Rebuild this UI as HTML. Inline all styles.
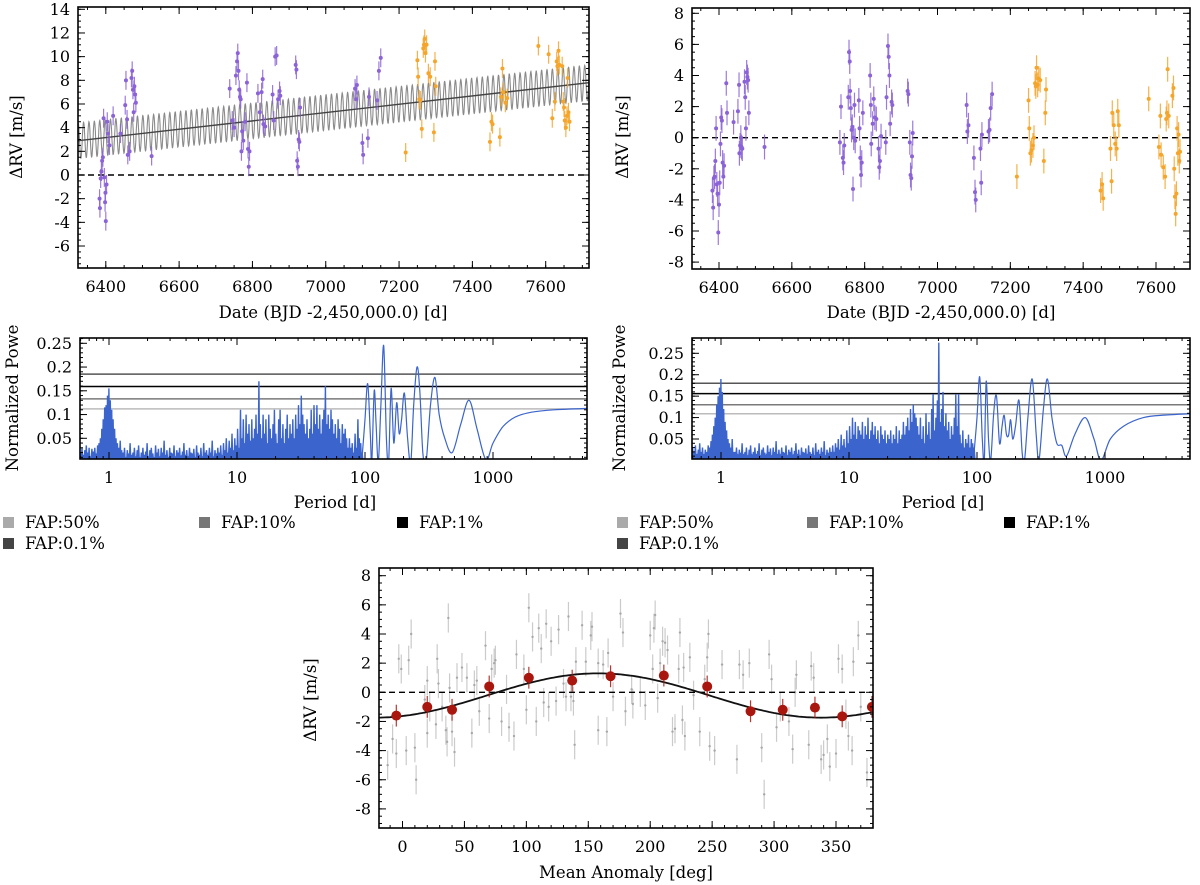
<!DOCTYPE html>
<html><head><meta charset="utf-8"><style>
body{margin:0;background:#fff;}
svg{display:block;font-family:"DejaVu Serif","Liberation Serif",serif;}
</style></head><body>
<svg id="fig" width="1200" height="885" viewBox="0 0 1200 885"></svg>
<script>
// ---------- DATA ----------
const tlPurpleDates=[6383,6384,6386,6388,6390,6392,6394,6396,6398,6399,6400,6402,6404,6406,6410,6420,6440,6455,6453,6458,6460,6465,6470,6472,6474,6476,6478,6480,6482,6525,6738,6745,6750,6755,6758,6760,6762,6764,6766,6768,6770,6772,6775,6780,6785,6788,6790,6792,6815,6820,6825,6828,6830,6835,6855,6858,6862,6866,6870,6874,6876,6918,6920,6922,6924,6926,6928,6930,7080,7083,7085,7100,7102,7115,7118,7140,7145,7150];
const tlPurpleRV=[-2.0,-2.8,-0.3,0.3,1.2,1.5,4.8,-0.2,-2.3,-1.5,-3.9,-0.8,4.5,3.5,2.5,5.0,3.5,8.0,5.9,4.7,1.7,2.0,8.2,8.8,7.2,5.3,7.5,6.8,6.1,1.6,7.3,4.6,4.0,8.4,9.6,10.3,8.8,7.2,6.6,6.4,2.0,3.7,2.9,4.5,7.8,2.2,0.7,2.0,6.9,5.3,7.0,8.1,4.3,4.1,6.8,4.6,10.0,10.1,6.4,7.1,6.7,9.3,8.9,1.2,0.7,3.0,2.8,5.7,7.3,6.4,7.6,2.7,1.7,3.1,6.6,6.3,8.8,9.9];
const tlOrangeDates=[7218,7250,7252,7255,7258,7262,7266,7268,7270,7272,7275,7280,7285,7295,7298,7300,7448,7452,7455,7475,7478,7482,7485,7490,7495,7580,7608,7618,7625,7630,7632,7635,7637,7645,7648,7650,7652,7655,7658,7660,7662,7665];
const tlOrangeRV=[1.9,9.7,8.3,6.4,6.3,3.9,10.7,11.0,11.5,10.3,11.0,8.6,8.3,3.6,9.6,7.5,2.8,4.5,4.3,3.2,6.6,9.0,7.0,6.1,6.5,10.9,10.2,4.8,6.2,9.6,9.2,10.5,9.3,9.2,6.2,5.7,4.6,4.0,5.0,8.2,5.3,4.5];
const trPurpleDates=[6382,6384,6386,6388,6390,6392,6394,6396,6398,6400,6402,6404,6406,6408,6410,6412,6414,6420,6422,6440,6452,6455,6456,6458,6460,6462,6464,6470,6472,6474,6476,6478,6480,6482,6525,6732,6735,6740,6742,6744,6755,6757,6759,6760,6762,6764,6766,6768,6770,6772,6774,6784,6786,6788,6790,6792,6795,6815,6817,6818,6822,6825,6828,6832,6838,6840,6842,6845,6858,6860,6864,6866,6868,6870,6874,6876,6918,6920,6924,6926,6928,6930,6932,7080,7082,7085,7100,7103,7105,7118,7120,7122,7140,7143,7146,7150];
const trPurpleRV=[-3.4,-4.5,-2.6,-2.5,-1.5,0.6,-3.0,-3.6,-6.1,-4.3,-2.9,-0.4,1.3,1.1,-1.6,-2.5,-1.8,3.5,1.6,1.0,1.7,3.4,-1.0,-0.5,0.0,-0.6,-0.7,3.6,2.6,0.6,4.2,3.9,3.7,1.6,-0.6,-0.3,2.0,-1.3,-1.6,-0.5,2.6,5.5,4.9,3.0,1.9,0.5,0.7,-3.3,0.0,2.1,-0.2,2.4,0.6,-1.3,-2.4,-1.6,1.6,4.0,2.1,-0.4,0.9,2.5,1.3,1.2,-0.7,-1.9,-1.5,0.1,-0.3,2.6,5.9,5.2,4.0,0.9,2.3,2.1,3.0,2.8,-0.3,-2.4,-2.6,-1.2,0.3,2.1,0.4,0.8,-1.3,-3.5,-4.0,-0.7,-2.9,0.2,0.4,0.5,1.9,2.8];
const trOrangeDates=[7218,7250,7252,7255,7258,7262,7265,7268,7270,7272,7275,7278,7282,7292,7296,7298,7448,7452,7455,7475,7478,7480,7484,7488,7492,7495,7498,7580,7608,7612,7614,7620,7625,7628,7630,7632,7635,7645,7648,7650,7652,7654,7656,7658,7660,7662,7664,7666];
const trOrangeRV=[-2.5,2.4,0.6,-1.0,-0.8,-0.5,0.0,3.5,3.3,4.5,3.4,3.8,3.7,-1.5,1.6,3.1,-3.4,-3.0,-3.9,-0.7,-2.8,1.6,0.8,-0.4,-0.7,1.7,0.8,2.5,-0.6,1.4,-1.1,-1.9,-2.5,1.2,1.6,4.4,1.4,2.7,3.2,-2.0,-3.8,-4.9,-3.6,0.6,-1.0,0.2,-1.5,-0.9];
const rvErr=[0.8];
const modelTrend=[2.9,7.8];
const modelAmp=[1.5];
const modelPeriod=[14.7];
const plNoiseRange=[0.6,95];
const plNoise=[.02,.03,.015,.025,.035,.02,.03,.012,.028,.022,.03,.018,.035,.04,.05,.07,.09,.115,.12,.14,.155,.13,.11,.09,.07,.05,.04,.03,.045,.025,.02,.03,.01,.025,.018,.04,.015,.02,.03,.012,.025,.035,.01,.02,.03,.015,.022,.04,.012,.025,.03,.018,.01,.035,.02,.028,.012,.03,.02,.045,.015,.025,.01,.03,.02,.018,.035,.012,.025,.02,.03,.01,.022,.04,.015,.025,.012,.03,.02,.018,.028,.01,.035,.02,.015,.03,.012,.04,.02,.025,.015,.03,.02,.045,.012,.025,.018,.03,.02,.035,.015,.04,.025,.05,.02,.045,.03,.06,.025,.05,.035,.07,.03,.11,.05,.09,.04,.1,.06,.08,.045,.09,.05,.07,.1,.06,.17,.08,.05,.1,.06,.09,.04,.1,.07,.05,.08,.11,.06,.04,.09,.11,.05,.08,.04,.07,.1,.05,.08,.06,.09,.05,.1,.07,.12,.08,.14,.1,.08,.06,.09,.05,.07,.11,.06,.12,.08,.12,.07,.1,.06,.09,.11,.16,.08,.1,.07,.11,.09,.06,.08,.05,.09,.07,.04,.08,.06,.07,.05,.03,.05,.03,.04,.02,.06,.03,.09,.05,.04,.02];
const plPeriods=[95,100,105,110,113,118,122,127,133,140,147,153,160,168,177,185,193,203,215,228,240,255,268,283,300,325,352,380,420,480,560,650,750,880,1000,1200,1500,2000,3000,5450];
const plPower=[0.01,0.09,0.165,0.06,0.0,0.15,0.08,0.0,0.12,0.245,0.05,0.0,0.155,0.04,0.125,0.06,0.09,0.145,0.05,0.0,0.12,0.2,0.15,0.02,0.0,0.12,0.178,0.1,0.05,0.02,0.08,0.13,0.07,0.005,0.04,0.075,0.095,0.105,0.11,0.113];
const prNoiseRange=[0.6,95];
const prNoise=[.03,.02,.035,.015,.025,.04,.02,.03,.015,.025,.02,.035,.03,.045,.06,.08,.1,.13,.15,.17,.19,.16,.12,.09,.07,.05,.04,.03,.05,.02,.02,.03,.01,.025,.018,.04,.015,.02,.03,.012,.025,.035,.01,.02,.03,.015,.022,.04,.012,.025,.03,.018,.01,.035,.02,.028,.012,.03,.02,.045,.015,.025,.01,.03,.02,.018,.035,.012,.025,.02,.03,.01,.022,.04,.015,.025,.012,.03,.02,.018,.028,.01,.035,.02,.015,.03,.012,.04,.02,.025,.015,.03,.02,.045,.012,.025,.018,.03,.02,.035,.02,.04,.03,.05,.025,.06,.035,.05,.03,.07,.04,.08,.05,.1,.06,.09,.05,.08,.07,.06,.09,.05,.08,.06,.1,.05,.07,.09,.06,.08,.05,.07,.04,.08,.06,.05,.07,.04,.06,.05,.07,.04,.06,.05,.08,.04,.07,.05,.06,.09,.06,.08,.1,.07,.12,.09,.13,.11,.1,.08,.06,.1,.05,.08,.04,.11,.06,.09,.05,.12,.155,.07,.1,.14,.275,.09,.12,.16,.08,.11,.07,.09,.05,.08,.06,.1,.155,.08,.155,.06,.04,.07,.03,.05,.04,.06,.03,.05,.04,.03];
const prPeriods=[95,100,105,110,114,118,123,128,135,142,150,157,163,170,177,183,190,200,213,225,235,250,270,290,305,330,355,385,420,460,500,580,700,820,930,1100,1400,2000,3000,5450];
const prPower=[0.02,0.1,0.195,0.05,0.0,0.185,0.05,0.0,0.11,0.15,0.04,0.08,0.105,0.06,0.06,0.095,0.05,0.08,0.14,0.02,0.0,0.1,0.19,0.06,0.0,0.12,0.19,0.1,0.04,0.035,0.01,0.06,0.1,0.05,0.0,0.05,0.08,0.1,0.106,0.11];
const plFap=[0.112,0.133,0.159,0.185];
const prFap=[0.109,0.130,0.156,0.180];
const fapLabels=["FAP:50%","FAP:10%","FAP:1%","FAP:0.1%"];
const phaseDeg=[-12,-8,-5,-3,-1,3,5,7,10,11,18,20,20,22,27,28,29,32,35,36,37,38,40,42,44,48,52,56,58,60,62,67,70,72,74,75,80,84,86,90,92,98,100,102,105,108,110,112,114,116,118,120,124,126,130,132,134,136,138,140,139,145,148,152,153,158,158,162,165,166,170,176,178,180,185,186,192,196,200,202,203,204,206,208,210,212,214,218,220,223,224,226,227,228,232,235,240,244,246,247,248,252,258,270,272,275,280,290,292,296,298,302,305,312,315,317,318,328,330,332,338,340,343,345,350,352,355,358,360,363,364,368,370,375];
const phaseRV=[-5.0,-3.2,-4.2,2.3,1.6,-4.0,2.2,4.0,-3.8,-6.0,-0.5,0.8,-2.8,-1.0,-2.2,2.3,0.6,-1.0,-2.6,-3.4,5.1,0.3,-2.7,-4.1,1.0,1.7,1.0,-2.8,0.5,0.8,-1.3,3.2,-1.8,1.6,2.0,2.2,-2.0,0.2,-2.4,-3.0,2.6,1.6,-1.2,5.8,3.8,-2.0,4.4,3.0,-0.7,4.7,-1.0,3.5,-0.6,4.3,0.6,-0.3,5.2,-0.3,-0.6,2.1,-3.6,4.6,2.1,3.9,4.5,2.0,-2.6,1.9,-2.7,2.7,-0.3,5.4,4.1,-1.3,0.2,-0.8,0.0,-0.9,3.9,1.6,4.4,5.3,-0.4,2.0,3.5,3.4,2.9,-2.7,-2.5,1.6,4.1,-1.9,1.7,-3.0,2.4,-0.2,-2.7,0.9,2.4,4.0,-3.7,-4.0,1.9,-4.6,1.9,1.2,2.0,-3.8,-7.0,2.6,0.9,-2.4,-1.0,-2.0,-3.9,0.0,1.2,-3.6,1.8,1.0,-4.6,-4.3,-3.2,-5.1,-4.2,2.3,1.6,-1.5,-3.0,-4.0,2.1,3.9,-1.0,-5.5];
const binDeg=[-5,20,40,70,102,137,168,211,246,281,307,333,355,379];
const binRV=[-1.6,-1.0,-1.2,0.4,1.0,0.8,1.1,1.15,0.4,-1.3,-1.2,-1.05,-1.65,-1.0];
const phaseModel=[-0.22,1.52,158];

// ---------- HELPERS ----------
const NS='http://www.w3.org/2000/svg';
const svg=document.getElementById('fig');
function mk(tag,attrs,parent){const e=document.createElementNS(NS,tag);for(const k in attrs)e.setAttribute(k,attrs[k]);(parent||svg).appendChild(e);return e;}
function lin(d0,d1,r0,r1){return v=>r0+(v-d0)*(r1-r0)/(d1-d0);}
function logs(d0,d1,r0,r1){const a=Math.log10(d0),b=Math.log10(d1);return v=>r0+(Math.log10(v)-a)*(r1-r0)/(b-a);}
let clipId=0;
function frame(g,box,name){
  const id='clip'+(clipId++);
  const cp=mk('clipPath',{id:id},g);
  mk('rect',{x:box.x0,y:box.y0,width:box.x1-box.x0,height:box.y1-box.y0},cp);
  const inner=mk('g',{'clip-path':'url(#'+id+')'},g);
  
  
  return inner;
}
function border(g,box,name){
  const r=mk('rect',{x:box.x0,y:box.y0,width:box.x1-box.x0,height:box.y1-box.y0,fill:'none',stroke:'#000','stroke-width':1.6},g);
  
  
}
function tick(g,x1,y1,x2,y2){mk('line',{x1:x1,y1:y1,x2:x2,y2:y2,stroke:'#000','stroke-width':1},g);}
function xTicks(g,box,sx,majors,minors,labels,name){
  const tg=mk('g',{},g);
  
  
  minors.forEach(v=>{const x=sx(v);if(x<box.x0||x>box.x1)return;tick(tg,x,box.y1,x,box.y1-3);tick(tg,x,box.y0,x,box.y0+3);});
  majors.forEach((v,i)=>{const x=sx(v);tick(tg,x,box.y1,x,box.y1-7);tick(tg,x,box.y0,x,box.y0+7);
    const t=mk('text',{x:x,y:box.y1+24,'text-anchor':'middle','font-size':16},tg);t.textContent=labels[i];
    
    });
}
function yTicks(g,box,sy,majors,minors,labels,name){
  const tg=mk('g',{},g);
  
  
  minors.forEach(v=>{const y=sy(v);if(y<box.y0||y>box.y1)return;tick(tg,box.x0,y,box.x0+3,y);tick(tg,box.x1,y,box.x1-3,y);});
  majors.forEach((v,i)=>{const y=sy(v);tick(tg,box.x0,y,box.x0+7,y);tick(tg,box.x1,y,box.x1-7,y);
    const t=mk('text',{x:box.x0-8,y:y+5.5,'text-anchor':'end','font-size':16},tg);t.textContent=labels[i];
    
    });
}
function label(g,x,y,txt,rot,name){
  const t=mk('text',{x:x,y:y,'text-anchor':'middle','font-size':16.5},g);
  if(rot)t.setAttribute('transform','rotate(-90 '+x+' '+y+')');
  t.textContent=txt;
  
  
}
function range(a,b,s){const r=[];for(let v=a;v<=b+1e-9;v+=s)r.push(+v.toFixed(4));return r;}
function points(g,xs,ys,sx,sy,err,color,name,r,op){
  const pg=mk('g',{},g);
  
  
  xs.forEach((d,i)=>{const x=sx(d),y=sy(ys[i]);
    mk('line',{x1:x,x2:x,y1:sy(ys[i]+err),y2:sy(ys[i]-err),stroke:color,'stroke-width':1.2,'stroke-opacity':op||0.85},pg);
    const c=mk('circle',{cx:x,cy:y,r:r,fill:color},pg);
    
    });
}
function zeroLine(g,box,sy){mk('line',{x1:box.x0,x2:box.x1,y1:sy(0),y2:sy(0),stroke:'#000','stroke-width':1.4,'stroke-dasharray':'6,4'},g);}

const PURPLE='#8b63d6',ORANGE='#f5a52a',BLUE='#3b64cc';

// ---------- TOP LEFT ----------
(function(){
  const g=mk('g',{});
  const box={x0:78,x1:589,y0:7,y1:268};
  const sx=lin(6400,7600,105.8,545.7), sy=lin(0,14,175,9.3);
  const inner=frame(g,box,'rv-model');
  zeroLine(inner,box,sy);
  let d='';const t0=6325,t1=7718;
  for(let t=t0;t<=t1;t+=0.5){const base=modelTrend[0]+(modelTrend[1]-modelTrend[0])*(t-t0)/(t1-t0);
    const v=base+modelAmp[0]*Math.sin(2*Math.PI*t/modelPeriod[0]);d+=(t===t0?'M':'L')+sx(t).toFixed(1)+','+sy(v).toFixed(1);}
  const m=mk('path',{d:d,fill:'none',stroke:'#8a8a8a','stroke-width':1.1},inner);
  
  const tr=mk('line',{x1:sx(t0),y1:sy(modelTrend[0]),x2:sx(t1),y2:sy(modelTrend[1]),stroke:'#444','stroke-width':1.4},inner);
  
  points(inner,tlPurpleDates,tlPurpleRV,sx,sy,rvErr[0],PURPLE,'purple-series',2);
  points(inner,tlOrangeDates,tlOrangeRV,sx,sy,rvErr[0],ORANGE,'orange-series',2);
  border(g,box,'rv-model');
  xTicks(g,box,sx,range(6400,7600,200),range(6350,7700,50),range(6400,7600,200).map(String),'rv-model');
  const ym=range(-6,14,2);yTicks(g,box,sy,ym,range(-7.5,14,0.5),ym.map(String),'rv-model');
  label(g,333,318,'Date (BJD -2,450,000.0) [d]',false,'x-axis-title');
  label(g,22,137,'ΔRV [m/s]',true,'y-axis-title');
})();

// ---------- TOP RIGHT ----------
(function(){
  const g=mk('g',{});
  const box={x0:692,x1:1190,y0:8,y1:269};
  const sx=lin(6400,7600,719,1156), sy=lin(0,8,137.7,13.3);
  const inner=frame(g,box,'rv-residual');
  zeroLine(inner,box,sy);
  points(inner,trPurpleDates,trPurpleRV,sx,sy,rvErr[0],PURPLE,'purple-residuals',2);
  points(inner,trOrangeDates,trOrangeRV,sx,sy,rvErr[0],ORANGE,'orange-residuals',2);
  border(g,box,'rv-residual');
  xTicks(g,box,sx,range(6400,7600,200),range(6350,7700,50),range(6400,7600,200).map(String),'rv-residual');
  const ym=range(-8,8,2);yTicks(g,box,sy,ym,range(-8,8,0.5),ym.map(String),'rv-residual');
  label(g,941,318,'Date (BJD -2,450,000.0) [d]',false,'x-axis-title');
  label(g,628,137,'ΔRV [m/s]',true,'y-axis-title');
})();

// ---------- PERIODOGRAMS ----------
function smoothPath(pts){
  let d='';
  for(let i=0;i<pts.length-1;i++){
    const p0=pts[Math.max(0,i-1)],p1=pts[i],p2=pts[i+1],p3=pts[Math.min(pts.length-1,i+2)];
    const c1=[p1[0]+(p2[0]-p0[0])/6,p1[1]+(p2[1]-p0[1])/6],c2=[p2[0]-(p3[0]-p1[0])/6,p2[1]-(p3[1]-p1[1])/6];
    d+='C'+c1[0].toFixed(1)+','+c1[1].toFixed(1)+' '+c2[0].toFixed(1)+','+c2[1].toFixed(1)+' '+p2[0].toFixed(1)+','+p2[1].toFixed(1);
  }
  return d;
}
function periodogram(box,sx,sy,noiseRange,noise,per,pow,fap,name,ylabX,xlabX){
  const g=mk('g',{});
  const inner=frame(g,box,name);
  const fapCols=['#bbbbbb','#7a7a7a','#000000','#555555'];
  fap.forEach((v,i)=>{const l=mk('line',{x1:box.x0,x2:box.x1,y1:sy(v),y2:sy(v),stroke:fapCols[i],'stroke-width':1.5},inner);
    });
  const a=Math.log10(noiseRange[0]),b=Math.log10(noiseRange[1]),n=noise.length;
  let d='';
  noise.forEach((v,i)=>{const p=Math.pow(10,a+(b-a)*i/(n-1)),q=Math.pow(10,a+(b-a)*(i+0.5)/(n-1));
    d+=(i?'L':'M')+sx(p).toFixed(1)+','+sy(v).toFixed(1)+'L'+sx(q).toFixed(1)+','+sy(0.004).toFixed(1);});
  const np=mk('path',{d:d,fill:'none',stroke:BLUE,'stroke-width':1.4},inner);
  
  const pts=per.map((p,i)=>[sx(p),sy(pow[i])]);
  const pth=mk('path',{d:'M'+pts[0][0].toFixed(1)+','+pts[0][1].toFixed(1)+smoothPath(pts),fill:'none',stroke:BLUE,'stroke-width':1.2},inner);
  
  border(g,box,name);
  const mins=[];[0.1,1,10,100,1000].forEach(dec=>{for(let k=2;k<=9;k++)mins.push(dec*k);});
  xTicks(g,box,sx,[1,10,100,1000],mins,['1','10','100','1000'],name);
  yTicks(g,box,sy,[0.05,0.1,0.15,0.2,0.25],range(0.01,0.28,0.01),['0.05','0.1','0.15','0.2','0.25'],name);
  label(g,xlabX,508,'Period [d]',false,'x-axis-title');
  label(g,ylabX,398,'Normalized Powe',true,'y-axis-title');
}
periodogram({x0:80,x1:587,y0:338,y1:459},logs(1,1000,109,493),lin(0.05,0.25,438.3,343.3),plNoiseRange,plNoise,plPeriods,plPower,plFap,'periodogram-left',18,335);
periodogram({x0:692,x1:1190,y0:338,y1:459},logs(1,1000,721,1105),lin(0.05,0.25,439,353.3),prNoiseRange,prNoise,prPeriods,prPower,prFap,'periodogram-right',625,943);

// ---------- LEGENDS ----------
function legend(x0,cols,name){
  const g=mk('g',{});
  const colors=['#aaaaaa','#777777','#000000','#444444'];
  fapLabels.forEach((t,i)=>{const r=i<3?0:1,c=i<3?i:0;const x=x0+cols[c],y=r?548:527;
    const e=mk('g',{},g);
    mk('rect',{x:x,y:y-10,width:11,height:11,fill:colors[i]},e);
    const tx=mk('text',{x:x+22,y:y+1,'font-size':16.5},e);tx.textContent=t;});
}
legend(3,[0,196,394],'legend-left');
legend(617,[0,190,387],'legend-right');

// ---------- PHASE PANEL ----------
(function(){
  const g=mk('g',{});
  const box={x0:379,x1:873,y0:568,y1:828};
  const sx=lin(0,350,402.5,836), sy=lin(0,8,692.3,575.7);
  const inner=frame(g,box,'phase');
  points(inner,phaseDeg,phaseRV,sx,sy,1.0,'#a8a8a8','phased-data',1.2,0.6);
  zeroLine(inner,box,sy);
  let d='';for(let p=-20;p<=380;p+=2){const v=phaseModel[0]+phaseModel[1]*Math.cos((p-phaseModel[2])*Math.PI/180);d+=(p===-20?'M':'L')+sx(p).toFixed(1)+','+sy(v).toFixed(1);}
  const m=mk('path',{d:d,fill:'none',stroke:'#111','stroke-width':1.8},inner);
  
  points(inner,binDeg,binRV,sx,sy,0.75,'#a8160e','binned-points',5);
  border(g,box,'phase');
  const xm=range(0,350,50);xTicks(g,box,sx,xm,range(-10,370,10),xm.map(String),'phase');
  const ym=range(-8,8,2);yTicks(g,box,sy,ym,range(-9,8,0.5),ym.map(String),'phase');
  label(g,626,878,'Mean Anomaly [deg]',false,'x-axis-title');
  label(g,316,700,'ΔRV [m/s]',true,'y-axis-title');
})();
</script>
</body></html>
